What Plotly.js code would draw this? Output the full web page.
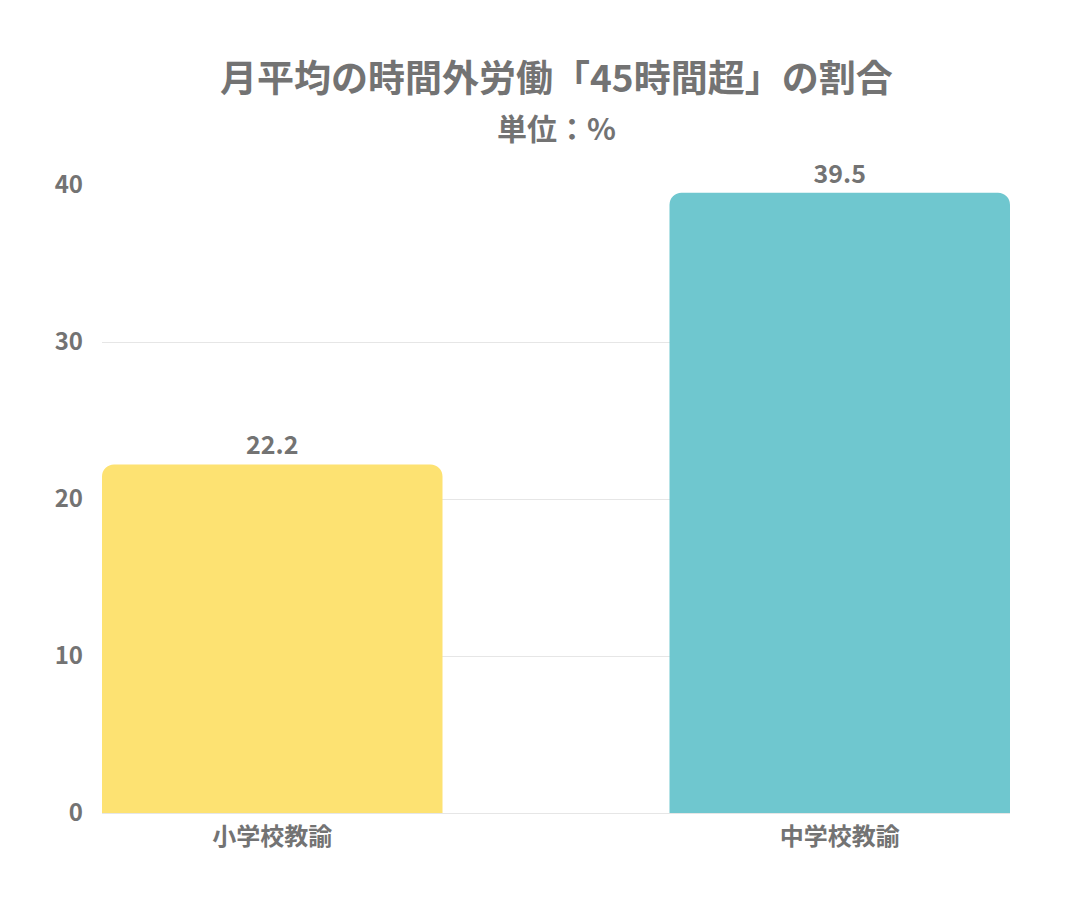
<!DOCTYPE html>
<html><head><meta charset="utf-8">
<script src="https://cdn.plot.ly/plotly-3.0.1.min.js"></script>
<style>html,body{margin:0;padding:0;background:#fff;}#chart{width:1065px;height:905px;}</style>
</head><body><div id="chart"></div>
<script>
var categories = ["小学校教諭", "中学校教諭"];
var values = [22.2, 39.5];
var barColors = ["#FDE272", "#6FC7CF"];
var yTicks = [0, 10, 20, 30, 40];
var titleText = "月平均の時間外労働「45時間超」の割合";
var subtitleText = "単位：%";

var fontFamily = "'Noto Sans CJK JP', 'Noto Sans', sans-serif";
var gray = "#737373";

var trace = {
  type: "bar",
  x: categories,
  y: values,
  marker: {color: barColors, cornerradius: 12},
  text: values.map(function(v){return v.toFixed(1);}),
  textposition: "outside",
  cliponaxis: false,
  textfont: {family: fontFamily, size: 25, color: gray, weight: 700},
  hoverinfo: "none"
};

var layout = {
  width: 1065, height: 905,
  paper_bgcolor: "#fff", plot_bgcolor: "#fff",
  margin: {l: 102, r: 55, t: 185, b: 92},
  bargap: 0.4,
  showlegend: false,
  font: {family: fontFamily, color: gray},
  xaxis: {
    range: [-0.3, 1.3],
    showgrid: false, showline: false, zeroline: false, ticks: "",
    ticklabelstandoff: 7,
    tickfont: {family: fontFamily, size: 24, color: gray, weight: 700}
  },
  yaxis: {
    range: [0, 40], tickvals: yTicks, ticktext: yTicks.map(String),
    showgrid: true, gridcolor: "#e6e6e6", gridwidth: 1,
    zeroline: true, zerolinecolor: "#e6e6e6", zerolinewidth: 1,
    showline: false, ticks: "", ticklabelstandoff: 18,
    tickfont: {family: fontFamily, size: 24, color: gray, weight: 700}
  },
  annotations: [
    {text: titleText, xref: "paper", yref: "paper", x: 0.5, y: 1, yshift: 0,
     xanchor: "center", yanchor: "middle", showarrow: false,
     font: {family: fontFamily, size: 37, color: gray, weight: 700}},
    {text: subtitleText, xref: "paper", yref: "paper", x: 0.5, y: 1,
     xanchor: "center", yanchor: "middle", showarrow: false,
     font: {family: fontFamily, size: 30, color: gray, weight: 700}}
  ]
};
layout.annotations[0].yshift = 185 - 76;
layout.annotations[1].yshift = 185 - 127;

Plotly.newPlot("chart", [trace], layout, {displayModeBar: false, staticPlot: true});
</script></body></html>
